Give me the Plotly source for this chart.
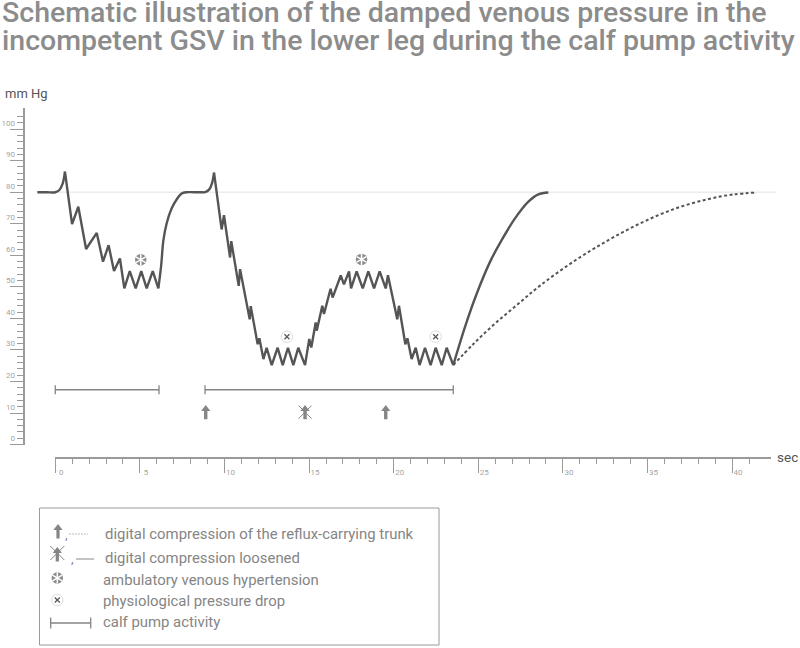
import plotly.graph_objects as go

# values
x_major = [0, 5, 10, 15, 20, 25, 30, 35, 40]
x_minor = [1, 2, 3, 4, 6, 7, 8, 9, 11, 12, 13, 14, 16, 17, 18, 19, 21, 22, 23, 24,
           26, 27, 28, 29, 31, 32, 33, 34, 36, 37, 38, 39, 41]
y_ticks = list(range(0, 104, 2))
y_labels = [str(v) if v % 10 == 0 else "" for v in y_ticks]
y_long = [-2, 8, 18, 28, 38, 48, 58, 68, 78, 88, 98]

# rest, first pump peak
rest_sec = [-1.06, -0.5, 0.0, 0.24, 0.44, 0.57]
rest_mmhg = [78.0, 78.0, 78.0, 78.7, 80.8, 84.5]

# first pump sequence
pump1_sec = [0.57, 0.99, 1.36, 1.82, 2.45, 2.82, 3.15, 3.47, 3.82,
             4.08, 4.40, 4.75, 5.08, 5.40, 5.76, 6.09]
pump1_mmhg = [84.5, 67.9, 73.4, 60.0, 65.1, 56.0, 61.2, 53.0, 57.0,
              47.5, 53.0, 47.5, 53.0, 47.5, 53.0, 47.5]

# refill up to the second peak
refill_sec = [6.09, 6.25, 6.39, 6.58, 6.88, 7.17, 7.47, 7.77, 8.2, 8.6, 8.85, 9.10, 9.26, 9.38]
refill_mmhg = [47.5, 54.4, 62.8, 68.1, 72.9, 75.7, 77.6, 78.0, 78.0, 78.0, 78.0, 78.9, 80.8, 84.2]

# second pump sequence with compression on, off, on
pump2_sec = [9.38, 9.83, 9.97, 10.33, 10.40, 10.84, 10.92, 11.49,
             11.55, 11.96, 12.06, 12.30, 12.49, 12.79, 13.14, 13.44, 13.75, 14.07, 14.36,
             14.76, 15.01, 15.13, 15.39, 15.45, 15.78, 15.88, 16.27, 16.39, 16.87, 17.06,
             17.36, 17.48, 17.81, 18.17, 18.50, 18.84, 19.17, 19.53, 19.66, 20.21, 20.31,
             20.69, 20.81, 21.06, 21.30, 21.53, 21.85, 22.18, 22.48, 22.84, 23.13, 23.52]
pump2_mmhg = [84.2, 66.2, 70.7, 57.3, 62.5, 48.3, 53.6, 37.7,
              41.9, 29.8, 31.7, 25.1, 28.7, 23.2, 28.7, 23.2, 28.7, 23.2, 28.7,
              23.2, 31.5, 28.8, 36.7, 34.1, 42.0, 39.4, 47.4, 44.6, 51.6, 48.8,
              52.9, 47.5, 52.9, 47.5, 52.9, 47.5, 52.9, 47.5, 51.7, 37.7, 42.0,
              29.8, 31.7, 25.1, 28.7, 23.2, 28.7, 23.2, 28.7, 23.2, 28.7, 23.2]

# recovery, fast and damped
recovery_sec = [23.52, 24.22, 24.91, 25.70, 26.38, 27.17, 27.96, 28.55, 29.14]
recovery_mmhg = [23.2, 35.4, 45.9, 56.0, 62.8, 69.7, 75.0, 77.3, 77.9]
damped_sec = [23.52, 24.71, 25.89, 27.27, 28.65, 30.62, 32.59, 34.56, 36.53, 38.5, 40.08, 41.46]
damped_mmhg = [23.2, 29.9, 35.9, 42.2, 48.4, 56.0, 62.5, 68.1, 72.6, 75.7, 77.3, 77.9]

baseline_sec = [-1.06, 42.6]
baseline_mmhg = [78, 78]

hypertension_sec = [5.05, 18.1]
hypertension_mmhg = [56.6, 56.7]
drop_sec = [13.69, 22.48]
drop_mmhg = [32.2, 32.2]

pump_sec = [0, 6.13, None, 8.85, 23.52]
pump_mmhg = [15.4, 15.4, None, 15.4, 15.4]

arrow_sec = [8.89, 14.76, 19.53]
loosened_sec = [14.76]

title_lines = ["Schematic illustration of the damped venous pressure in the",
               "incompetent GSV in the lower leg during the calf pump activity"]
legend_rows = ["digital compression of the reflux-carrying trunk",
               "digital compression loosened",
               "ambulatory venous hypertension",
               "physiological pressure drop",
               "calf pump activity"]
legend_text_x = [104, 104, 102, 102, 102]
legend_text_y = [534, 558, 580, 601, 622]

W, H = 800, 648
FONT = "Roboto"
DARK = "#555555"
GREY = "#858585"
AXIS = "#9a9a9a"
SEC_PX = 16.92


def line(fig, xs, ys, color, width, dash="solid", axes="main", shape="linear"):
    xa, ya = ("x3", "y") if axes == "main" else ("x2", "y2")
    fig.add_trace(go.Scatter(x=xs, y=ys, mode="lines", xaxis=xa, yaxis=ya, cliponaxis=False,
                             line=dict(color=color, width=width, dash=dash, shape=shape)))


def marks(fig, xs, ys, symbol, size, color, lw=0, lc=None, axes="main", angle=0):
    xa, ya = ("x3", "y") if axes == "main" else ("x2", "y2")
    fig.add_trace(go.Scatter(x=xs, y=ys, mode="markers", xaxis=xa, yaxis=ya, cliponaxis=False,
                             marker=dict(symbol=symbol, size=size, color=color, angle=angle,
                                         line=dict(width=lw, color=lc or color))))


def hypertension_mark(fig, xs, ys, axes="main"):
    # grey disc with a white six armed star
    marks(fig, xs, ys, "circle", 11.5, "#8c8c8c", axes=axes)
    for a in [0, 60, 120]:
        marks(fig, xs, ys, "line-ns-open", 8, "white", 1.5, "white", axes=axes, angle=a)


def label(fig, text, x, y, size, color, weight=400, anchor="left"):
    fig.add_annotation(text=text, x=x / W, y=1 - y / H, xref="paper", yref="paper",
                       showarrow=False, xanchor=anchor, yanchor="middle", borderpad=0,
                       font=dict(family=FONT, size=size, color=color, weight=weight))


fig = go.Figure()

# keeps the visible time axis on the page, it carries no marks of its own
fig.add_trace(go.Scatter(x=x_major, y=[None] * len(x_major), mode="lines", xaxis="x", yaxis="y"))

line(fig, baseline_sec, baseline_mmhg, "#ececec", 1.5)
line(fig, damped_sec, damped_mmhg, DARK, 2, dash="3px,2.5px", shape="spline")
line(fig, rest_sec, rest_mmhg, DARK, 2.4, shape="spline")
line(fig, pump1_sec, pump1_mmhg, DARK, 2.4)
line(fig, refill_sec, refill_mmhg, DARK, 2.4, shape="spline")
line(fig, pump2_sec, pump2_mmhg, DARK, 2.4)
line(fig, recovery_sec, recovery_mmhg, DARK, 2.4, shape="spline")

# hypertension / pressure drop symbols
hypertension_mark(fig, hypertension_sec, hypertension_mmhg)
marks(fig, drop_sec, drop_mmhg, "circle", 11.5, "white", 1, "#dddddd")
marks(fig, drop_sec, drop_mmhg, "x-thin-open", 5, DARK, 1.2, "#777777")

# calf pump bars
line(fig, pump_sec, pump_mmhg, GREY, 1.5)
marks(fig, [v for v in pump_sec if v is not None], [v for v in pump_mmhg if v is not None],
      "line-ns-open", 6.5, GREY, 1.3)

# compression arrows
for s in arrow_sec:
    line(fig, [s, s], [6.0, 8.8], GREY, 3.4)
marks(fig, arrow_sec, [9.3] * 3, "triangle-up", 8, GREY)
marks(fig, loosened_sec, [8.3], "x-thin-open", 13, GREY, 1, "#999999")

# legend box and icons sit on a second axis pair in page pixels
fig.add_shape(type="rect", xref="paper", yref="paper", x0=39.5 / W, x1=439 / W,
              y0=1 - 645 / H, y1=1 - 508 / H, line=dict(color="#9a9a9a", width=1))
for px, py in [(58, 524), (57.3, 547)]:
    line(fig, [px, px], [py + 14.5, py + 6], GREY, 3.2, axes="legend")
    marks(fig, [px], [py + 4], "triangle-up", 8, GREY, axes="legend")
marks(fig, [57.3], [553], "x-thin-open", 14, GREY, 1, "#999999", axes="legend")
line(fig, [69, 88], [534, 534], "#aaaaaa", 0.8, dash="2px,1px", axes="legend")
line(fig, [76, 94], [559, 559], "#888888", 1, axes="legend")
hypertension_mark(fig, [57.3], [578], axes="legend")
marks(fig, [57.3], [600], "circle", 11.5, "white", 1, "#dddddd", axes="legend")
marks(fig, [57.3], [600], "x-thin-open", 5, DARK, 1.2, "#777777", axes="legend")
line(fig, [50.7, 90.7], [623, 623], GREY, 1.5, axes="legend")
marks(fig, [50.7, 90.7], [623, 623], "line-ns-open", 8, GREY, 1.3, axes="legend")

for text, x, y in zip(legend_rows, legend_text_x, legend_text_y):
    label(fig, text, x, y, 14.9, GREY)
label(fig, ",", 64, 534, 13, GREY)
label(fig, ",", 70, 558, 13, GREY)

label(fig, title_lines[0], 1, 13, 28.5, "#8c8c8c", weight=500)
label(fig, title_lines[1], 1, 41, 28.5, "#8c8c8c", weight=500)
label(fig, "mm Hg", 4, 94, 13, DARK)
label(fig, "sec", 776, 457, 13.5, DARK)

fig.update_layout(
    width=W, height=H, showlegend=False, plot_bgcolor="rgba(0,0,0,0)", paper_bgcolor="white",
    margin=dict(l=0, r=0, t=0, b=0),
    xaxis=dict(domain=[55.3 / W, 770.7 / W], range=[0, 715.4 / SEC_PX], anchor="free",
               position=1 - 457.7 / H, showgrid=False, zeroline=False, showline=True,
               linecolor=AXIS, linewidth=1.5, ticks="outside", ticklen=15, tickwidth=1,
               tickcolor=AXIS, tickvals=x_major, ticktext=[str(v) for v in x_major],
               ticklabelshift=6, ticklabelstandoff=-8,
               tickfont=dict(family=FONT, size=8, color="#a5a5a5"),
               minor=dict(tickvals=x_minor, ticks="outside", ticklen=6, tickwidth=1,
                          tickcolor=AXIS, showgrid=False)),
    yaxis=dict(domain=[1 - 444.6 / H, 1 - 108.3 / H], range=[-2, 104.6], anchor="free",
               position=24.3 / W, showgrid=False, zeroline=False, showline=True,
               linecolor=AXIS, linewidth=1.5, ticks="outside", ticklen=7, tickwidth=1,
               tickcolor=AXIS, tickvals=y_ticks, ticktext=y_labels,
               tickfont=dict(family=FONT, size=8, color="#a5a5a5"),
               minor=dict(tickvals=y_long, ticks="outside", ticklen=14, tickwidth=1,
                          tickcolor=AXIS, showgrid=False)),
    xaxis2=dict(domain=[0, 1], range=[0, W], visible=False, anchor="y2"),
    yaxis2=dict(domain=[0, 1], range=[H, 0], visible=False, anchor="x2"),
    # same scale as the visible time axis, full page wide so the curve can start left of 0
    xaxis3=dict(domain=[0, 1], range=[-55.3 / SEC_PX, 744.7 / SEC_PX], visible=False,
                anchor="y"),
)

fig.write_html("out.html", config={"displayModeBar": False},
               post_script="document.body.style.margin='0';")
